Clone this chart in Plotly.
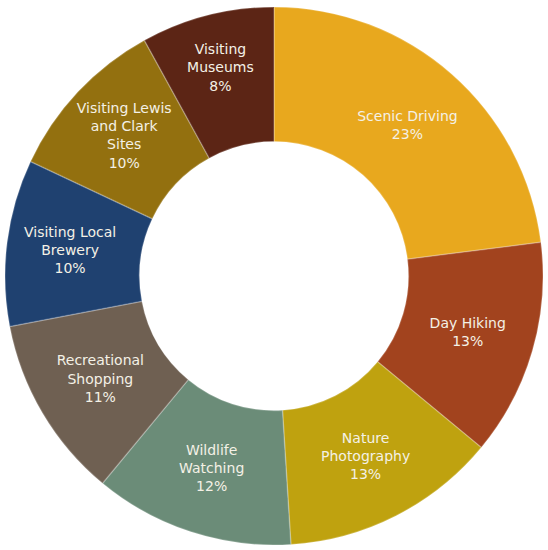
import plotly.graph_objects as go

categories = ["Scenic Driving", "Day Hiking", "Nature Photography", "Wildlife Watching",
              "Recreational Shopping", "Visiting Local Brewery",
              "Visiting Lewis and Clark Sites", "Visiting Museums"]
display_labels = ["Scenic Driving", "Day Hiking", "Nature<br>Photography", "Wildlife<br>Watching",
                  "Recreational<br>Shopping", "Visiting Local<br>Brewery",
                  "Visiting Lewis<br>and Clark<br>Sites", "Visiting<br>Museums"]
values = [23, 13, 13, 12, 11, 10, 10, 8]
colors = ["#E8A81E", "#A2431E", "#BFA20F", "#6B8C78", "#6F6052", "#1F4170", "#93700F", "#5C2515"]

fig = go.Figure(go.Pie(
    labels=categories,
    values=values,
    text=display_labels,
    texttemplate="%{text}<br>%{value}%",
    textposition="inside",
    insidetextorientation="horizontal",
    hole=0.5,
    sort=False,
    direction="clockwise",
    rotation=0,
    marker=dict(colors=colors, line=dict(color="rgba(255,255,255,0.22)", width=1.5)),
    textfont=dict(family="DejaVu Sans", size=14, color="#F4F1E6"),
    showlegend=False,
))
fig.update_layout(
    width=548, height=550,
    margin=dict(l=5, r=5, t=7, b=5),
    paper_bgcolor="white",
    uniformtext=dict(minsize=13, mode="show"),
)
fig.write_html("out.html")
